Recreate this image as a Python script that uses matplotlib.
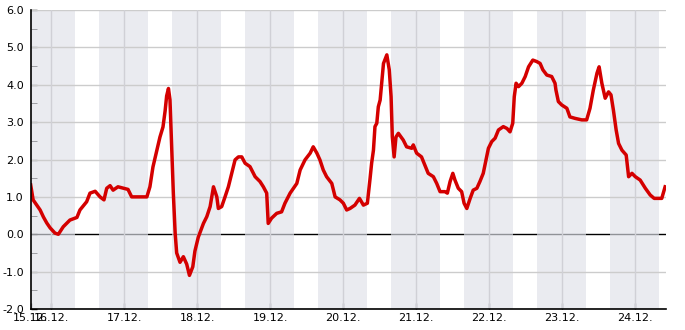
import matplotlib
matplotlib.use('Agg')
import matplotlib.pyplot as plt
import numpy as np

# hours since 15.12. 00:00 and measured value
hours = [17.2, 18.0, 20.3, 21.4, 22.5, 23.6, 25.2, 26.3, 27.9, 30.1,
         32.4, 33.4, 35.6, 36.7, 38.4, 40.0, 41.3, 42.2, 43.3, 44.3,
         45.9, 49.2, 50.4, 55.4, 56.4, 57.4, 58.7, 59.7, 60.7, 61.4,
         61.9, 62.5, 63.0, 63.6, 64.1, 64.7, 65.2, 66.3, 67.4, 68.5,
         69.4, 70.5, 71.2, 72.3, 74.0, 75.1, 76.2, 77.3, 78.4, 78.9,
         80.0, 81.1, 82.2, 83.3, 84.4, 85.5, 86.6, 87.7, 89.3, 91.0,
         92.6, 93.7, 94.8, 95.3, 96.4, 98.1, 99.7, 100.8, 102.5, 104.7,
         105.8, 107.4, 109.1, 110.1, 111.3, 112.3, 113.4, 114.5, 116.2, 117.3,
         118.9, 120.0, 121.1, 122.2, 123.8, 125.3, 126.6, 127.9, 128.8, 129.3,
         129.9, 130.4, 131.0, 131.5, 132.1, 132.4, 133.2, 134.3, 135.1, 135.7,
         136.1, 136.7, 137.3, 138.1, 139.7, 140.8, 142.5, 143.0, 144.1, 145.7,
         146.8, 147.9, 149.6, 150.7, 151.8, 153.4, 154.2, 155.1, 156.0, 156.7,
         157.8, 158.9, 159.7, 160.6, 161.7, 162.7, 163.9, 164.9, 166.0, 166.9,
         167.7, 168.8, 169.9, 171.0, 172.6, 173.8, 174.8, 175.7, 176.2, 176.8,
         177.6, 178.7, 179.8, 180.9, 182.3, 183.6, 184.7, 185.6, 186.9, 188.5,
         189.6, 189.9, 190.7, 191.8, 193.5, 194.5, 196.2, 198.4, 200.0, 201.1,
         202.2, 203.4, 204.1, 205.0, 206.1, 207.2, 208.0, 208.8, 209.7, 210.5,
         211.6, 213.0, 213.8, 214.9, 216.0, 217.6, 219.3, 220.9, 222.2, 223.6,
         224.7, 225.8]
values = [1.32, 0.92, 0.65, 0.46, 0.30, 0.17, 0.03, 0.0, 0.2, 0.38,
          0.45, 0.65, 0.87, 1.1, 1.15, 1.0, 0.92, 1.23, 1.3, 1.18,
          1.27, 1.2, 1.0, 1.0, 1.27, 1.8, 2.25, 2.6, 2.87, 3.3,
          3.7, 3.9, 3.6, 2.25, 1.1, 0.03, -0.5, -0.75, -0.6, -0.8,
          -1.1, -0.87, -0.45, -0.08, 0.29, 0.47, 0.74, 1.27, 1.0, 0.69,
          0.74, 1.0, 1.27, 1.63, 1.99, 2.07, 2.07, 1.9, 1.81, 1.54,
          1.41, 1.27, 1.1, 0.29, 0.43, 0.56, 0.6, 0.83, 1.1, 1.36,
          1.72, 1.99, 2.17, 2.34, 2.17, 1.99, 1.72, 1.54, 1.36, 1.0,
          0.92, 0.83, 0.65, 0.69, 0.78, 0.96, 0.78, 0.83, 1.5, 1.9,
          2.25, 2.88, 2.97, 3.41, 3.59, 3.86, 4.57, 4.8, 4.4, 3.68,
          2.61, 2.07, 2.6, 2.7, 2.52, 2.34, 2.3, 2.39, 2.17, 2.07,
          1.85, 1.63, 1.54, 1.36, 1.14, 1.14, 1.1, 1.41, 1.63, 1.45,
          1.23, 1.14, 0.83, 0.69, 0.96, 1.18, 1.23, 1.41, 1.63, 1.99,
          2.3, 2.48, 2.57, 2.79, 2.88, 2.83, 2.74, 2.97, 3.68, 4.04,
          3.95, 4.04, 4.22, 4.48, 4.66, 4.62, 4.57, 4.4, 4.26, 4.22,
          4.04, 3.86, 3.55, 3.46, 3.37, 3.14, 3.1, 3.06, 3.06, 3.37,
          3.86, 4.31, 4.48, 4.04, 3.64, 3.81, 3.73, 3.32, 2.79, 2.43,
          2.25, 2.12, 1.54, 1.63, 1.54, 1.45, 1.23, 1.05, 0.96, 0.96,
          0.96, 1.27]

day_labels = ['15.12.', '16.12.', '17.12.', '18.12.', '19.12.', '20.12.',
              '21.12.', '22.12.', '23.12.', '24.12.']
sunrise = 7.9
sunset = 15.7
x_start, x_end = 17.2, 226.1


def main():
    fig = plt.figure(figsize=(6.85, 3.30), dpi=100)
    ax = fig.add_axes([0.0448, 0.0636, 0.9275, 0.9061])

    # night shading, drawn over the zero line
    ax.axhline(0, color='black', lw=1, zorder=1)
    ax.axvspan(x_start, 24 + sunrise, color='#dfe1e9', alpha=0.65, lw=0, zorder=2)
    for d in range(1, 9):
        ax.axvspan(d * 24 + sunset, (d + 1) * 24 + sunrise,
                   color='#dfe1e9', alpha=0.65, lw=0, zorder=2)

    for y in range(-2, 7):
        if y != 0:
            ax.axhline(y, color='#cccccc', lw=1, zorder=3)
    for d in range(1, 10):
        ax.axvline(d * 24, color='#d0d0d6', lw=1, zorder=3)

    ax.plot(hours, values, color='#d40000', lw=2.5, zorder=5)

    ax.set_xlim(x_start, x_end)
    ax.set_ylim(-2, 6)
    ax.set_xticks([x_start] + [d * 24 for d in range(1, 10)])
    ax.set_xticklabels(day_labels)
    ax.set_yticks(range(-2, 7))
    ax.set_yticklabels(['%.1f' % y for y in range(-2, 7)])
    ax.set_yticks(np.arange(-1.5, 6, 1.0), minor=True)

    for s in ['top', 'right']:
        ax.spines[s].set_visible(False)
    for s in ['left', 'bottom']:
        ax.spines[s].set_linewidth(1.2)
        ax.spines[s].set_zorder(6)
    ax.tick_params(direction='in', length=4, width=1, labelsize=8,
                   colors='black')
    ax.tick_params(axis='y', which='major', pad=5)
    ax.tick_params(axis='y', which='minor', direction='in', length=4)
    ax.tick_params(axis='x', pad=3)

    fig.savefig('out.png', dpi=100)
    plt.close()


if __name__ == '__main__':
    main()
